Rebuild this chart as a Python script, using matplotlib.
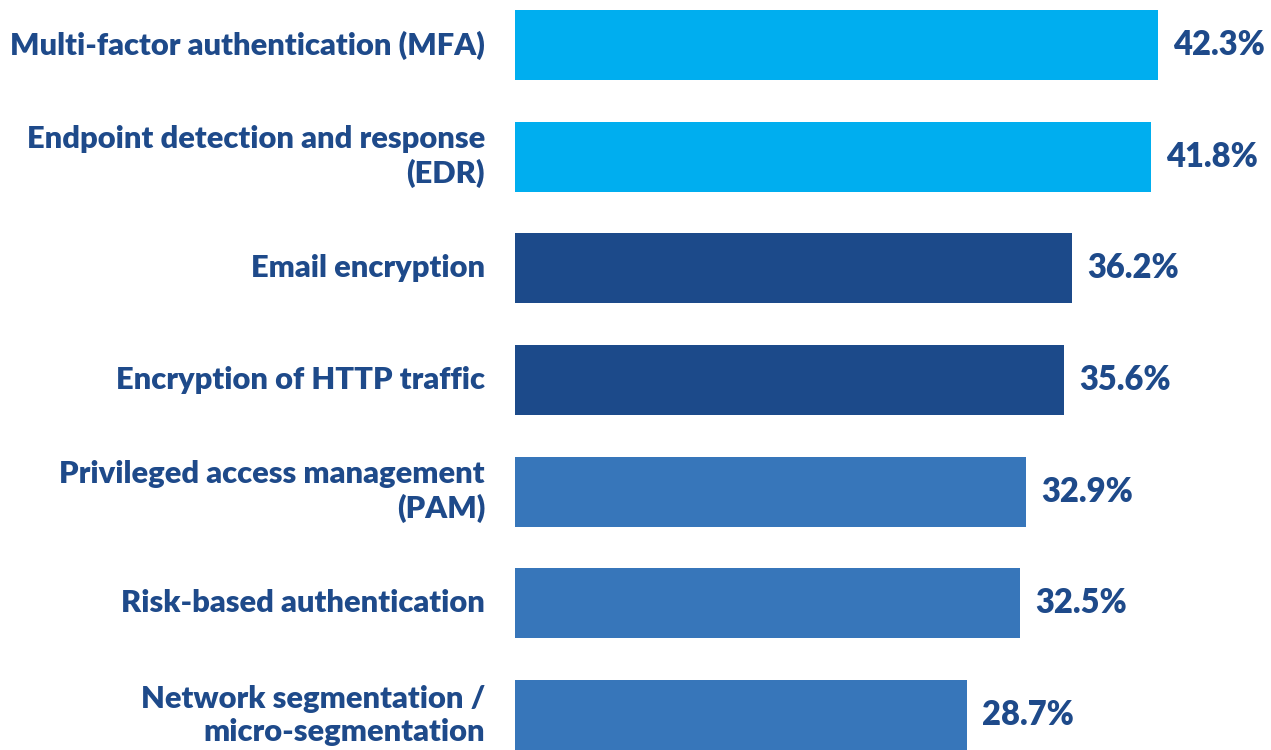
import matplotlib.pyplot as plt
import numpy as np

# Data
categories = [
    "Multi-factor authentication (MFA)",
    "Endpoint detection and response\n(EDR)",
    "Email encryption",
    "Encryption of HTTP traffic",
    "Privileged access management\n(PAM)",
    "Risk-based authentication",
    "Network segmentation /\nmicro-segmentation",
]
values = [42.3, 41.8, 36.2, 35.6, 32.9, 32.5, 28.7]
tiers = [0, 0, 1, 1, 2, 2, 2]

tier_colors = ["#00AEEF", "#1C4A8A", "#3776BA"]
text_color = "#1E4A8A"
base = -3.49  # bars in the original start a bit left of zero

plt.rcParams['font.family'] = ['Lato', 'DejaVu Sans']

fig = plt.figure(figsize=(12.71, 7.5), dpi=100)
ax = fig.add_axes([515 / 1271, 0, 756 / 1271, 1])

y = np.arange(len(categories))
vals = np.array(values)
colors = [tier_colors[t] for t in tiers]
bars = ax.barh(y, vals - base, left=base, height=0.627, color=colors)

ax.set_xlim(base, base + 756 / 14.04)
ax.set_ylim(6.313, -0.403)
ax.axis('off')

for yi, v, lab in zip(y, values, categories):
    ax.text(v + 1.1, yi, f'{v:.1f}%', ha='left', va='center',
            fontsize=23.5, fontweight='heavy', color=text_color)
    ax.annotate(lab, xy=(base, yi), xytext=(-30, 0), textcoords='offset pixels',
                ha='right', va='center', ma='right', fontsize=22.2,
                fontweight='heavy', color=text_color, linespacing=1.22,
                annotation_clip=False)

fig.savefig('out.png', dpi=100)
